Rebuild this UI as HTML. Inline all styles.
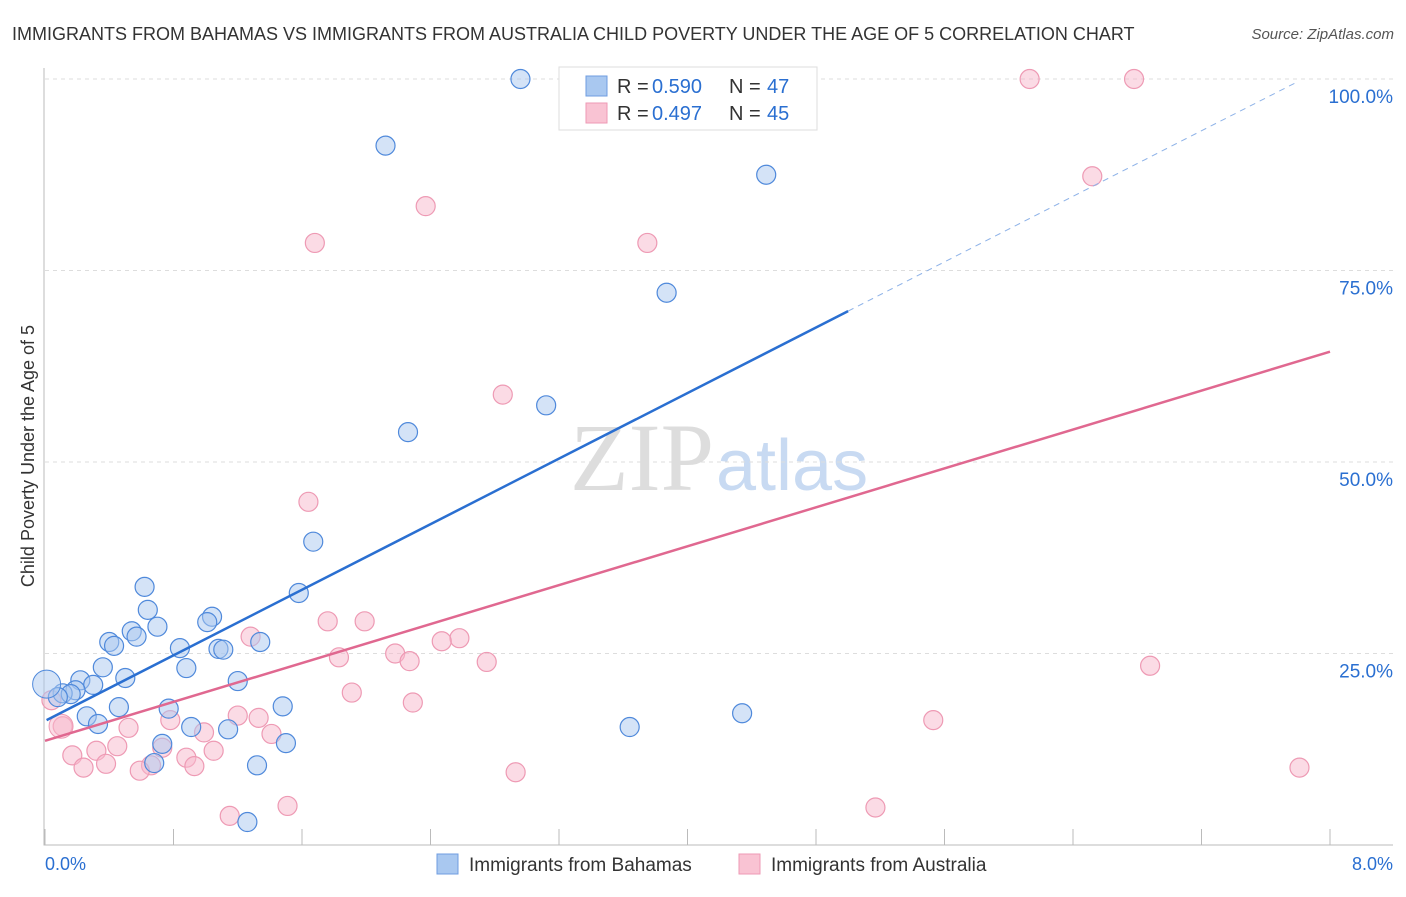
<!DOCTYPE html>
<html><head><meta charset="utf-8"><style>
body{margin:0;background:#fff;font-family:"Liberation Sans",sans-serif}
</style></head><body>
<svg width="1406" height="892" xmlns="http://www.w3.org/2000/svg" id="c" font-family="Liberation Sans, sans-serif">
<text x="12" y="40" font-size="18" fill="#333">IMMIGRANTS FROM BAHAMAS VS IMMIGRANTS FROM AUSTRALIA CHILD POVERTY UNDER THE AGE OF 5 CORRELATION CHART</text>
<text x="1394" y="39" font-size="15" fill="#555" font-style="italic" text-anchor="end">Source: ZipAtlas.com</text>
<text x="714" y="490" font-size="96" fill="#ddd" text-anchor="end" font-family="Liberation Serif, serif">ZIP</text>
<text x="716" y="490" font-size="72" fill="#c8daf2">atlas</text>
<text transform="translate(34,456) rotate(-90)" font-size="18" fill="#333" text-anchor="middle">Child Poverty Under the Age of 5</text>
<g id="grid"></g><g id="marks"></g>
<rect x="559" y="67" width="258" height="63" fill="#fff" stroke="#ddd"/>
<rect x="586" y="76" width="21" height="20" fill="#a9c8f0" stroke="#6f9de0"/>
<rect x="586" y="103" width="21" height="20" fill="#f9c3d3" stroke="#ee9ab4"/>
<g font-size="20">
<text x="617" y="93" fill="#333">R =</text><text x="652" y="93" fill="#2a6fd1">0.590</text>
<text x="729" y="93" fill="#333">N =</text><text x="767" y="93" fill="#2a6fd1">47</text>
<text x="617" y="120" fill="#333">R =</text><text x="652" y="120" fill="#2a6fd1">0.497</text>
<text x="729" y="120" fill="#333">N =</text><text x="767" y="120" fill="#2a6fd1">45</text>
</g>
<rect x="437" y="854" width="21" height="20" fill="#a9c8f0" stroke="#6f9de0"/>
<text x="469" y="871" font-size="19" fill="#333">Immigrants from Bahamas</text>
<rect x="739" y="854" width="21" height="20" fill="#f9c3d3" stroke="#ee9ab4"/>
<text x="771" y="871" font-size="19" fill="#333">Immigrants from Australia</text>
<text x="45" y="870" font-size="18" fill="#2a6fd1">0.0%</text>
<text x="1393" y="870" font-size="18" fill="#2a6fd1" text-anchor="end">8.0%</text>
</svg>
<script>
const blueX=[2.96,2.12,4.49,3.87,3.12,2.26,1.67,0.62,0.64,1.58,1.04,1.01,0.54,0.70,0.57,0.40,0.43,0.84,1.34,1.08,1.11,0.36,0.88,0.22,0.50,0.30,0.19,1.20,0.11,0.16,0.08,0.46,1.48,0.77,0.26,0.33,0.91,1.14,3.64,4.34,0.73,1.50,0.68,1.32,1.26];
const blueY=[100,91.3,87.5,72.1,57.4,53.9,39.6,33.7,30.7,32.9,29.8,29.1,27.9,28.5,27.2,26.5,26.0,25.7,26.5,25.6,25.5,23.2,23.1,21.5,21.8,20.9,20.2,21.4,19.8,19.7,19.3,18.0,18.1,17.8,16.8,15.8,15.4,15.1,15.4,17.2,13.2,13.3,10.7,10.4,3.0];
const pinkX=[6.13,6.78,6.52,2.37,1.68,3.75,2.85,1.64,1.76,1.99,1.28,2.58,2.47,2.18,2.27,2.75,1.83,6.88,1.91,2.29,1.2,1.33,0.78,5.53,0.04,0.11,0.52,0.99,1.41,0.45,0.32,0.17,0.73,1.05,0.88,0.38,0.66,0.93,0.24,0.59,2.93,7.81,1.15,1.51,5.17];
const pinkY=[100,100,87.3,83.4,78.6,78.6,58.8,44.8,29.2,29.2,27.2,27,26.6,25,24,23.9,24.5,23.4,19.9,18.6,16.9,16.6,16.3,16.3,18.9,15.5,15.3,14.7,14.5,12.9,12.3,11.7,12.7,12.3,11.4,10.6,10.4,10.3,10.1,9.7,9.5,10.1,3.8,5.1,4.9];
const yTicks=[25,50,75,100], yTickLabels=["25.0%","50.0%","75.0%","100.0%"];
const xTicks=[0,0.8,1.6,2.4,3.2,4,4.8,5.6,6.4,7.2,8];
const blueLine=[16.2,10.7], pinkLine=[13.6,6.35];
const X=v=>45+v/8*1285, Y=v=>845-v*7.66;
const NS="http://www.w3.org/2000/svg";
function mk(p,t,a){const e=document.createElementNS(NS,t);for(const k in a)e.setAttribute(k,a[k]);p.appendChild(e);return e;}
const g=document.getElementById('grid'), m=document.getElementById('marks');
yTicks.forEach((t,i)=>{
 const l=mk(g,'line',{x1:45,x2:1393,y1:Y(t),y2:Y(t),stroke:'#ddd','stroke-dasharray':'4,4'});
 
 
 const tx=mk(g,'text',{x:1393,y:Y(t)+24,'font-size':19,fill:'#2a6fd1','text-anchor':'end'});tx.textContent=yTickLabels[i];
 
 
});
const ax=mk(g,'path',{d:'M44,68V845H1393',stroke:'#bbb',fill:'none'});


xTicks.forEach(t=>{const l=mk(g,'line',{x1:X(t),x2:X(t),y1:829,y2:845,stroke:'#bbb'});
 
 });
function pts(xs,ys,fill,st,name){xs.forEach((x,i)=>{const c=mk(m,'circle',{cx:X(x),cy:Y(ys[i]),r:9.5,fill:fill,'fill-opacity':0.5,stroke:st,'stroke-width':1.2});
 
 });}
pts(pinkX,pinkY,'#f7b8cb','#ee9ab4','australia-point');
pts(blueX,blueY,'#a9c8f0','#4f89db','bahamas-point');
const big1=mk(m,'circle',{cx:X(0.01),cy:Y(21),r:14,fill:'#a9c8f0','fill-opacity':0.5,stroke:'#4f89db'});


const big2=mk(m,'circle',{cx:X(0.1),cy:Y(15.5),r:12,fill:'#f7b8cb','fill-opacity':0.5,stroke:'#ee9ab4'});


const f=(L,x)=>L[0]+L[1]*x;
const bl=mk(m,'line',{x1:X(0.01),y1:Y(f(blueLine,0.01)),x2:X(5),y2:Y(f(blueLine,5)),stroke:'#2a6fd1','stroke-width':2.5});


const bd=mk(m,'line',{x1:X(5),y1:Y(f(blueLine,5)),x2:X(7.78),y2:Y(f(blueLine,7.78)),stroke:'#8fb3e8','stroke-width':1,'stroke-dasharray':'6,5'});


const pl=mk(m,'line',{x1:X(0),y1:Y(f(pinkLine,0)),x2:X(8),y2:Y(f(pinkLine,8)),stroke:'#e06890','stroke-width':2.5});


</script>
</body></html>
